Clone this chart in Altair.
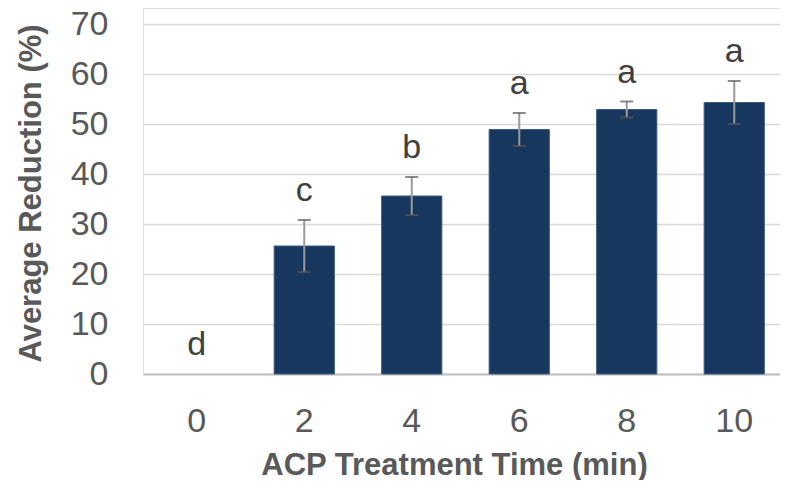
import altair as alt
import pandas as pd

times = ["0", "2", "4", "6", "8", "10"]
means = [0.0, 25.6, 35.6, 48.9, 52.9, 54.3]
errors = [0.0, 5.2, 3.8, 3.3, 1.6, 4.3]
letters = ["d", "c", "b", "a", "a", "a"]

df = pd.DataFrame({"time": times, "mean": means, "err": errors, "letter": letters})
df["lo"] = df["mean"] - df["err"]
df["hi"] = df["mean"] + df["err"]

FONT = "Liberation Sans"
TXT = "#595959"

xscale = alt.Scale(domain=times, paddingInner=0.44, paddingOuter=0.22, range=[0, 645])

x = alt.X("time:N", sort=times, scale=xscale,
          axis=alt.Axis(title="ACP Treatment Time (min)", labelAngle=0,
                        labelFontSize=34, labelColor=TXT, labelFont=FONT,
                        labelPadding=30, ticks=False, domainColor="#bfbfbf",
                        domainWidth=2, titleFontSize=31, titleFont=FONT,
                        titleFontWeight="bold", titleColor=TXT,
                        titleX=311, titleY=91, titleBaseline="middle"))
y = alt.Y("mean:Q",
          scale=alt.Scale(domain=[0, 73.2], nice=False),
          axis=alt.Axis(title="Average Reduction (%)", values=[0, 10, 20, 30, 40, 50, 60, 70],
                        labelFontSize=34, labelColor=TXT, labelFont=FONT,
                        labelPadding=35, ticks=False, domain=False,
                        gridColor="#d9d9d9", gridWidth=1.5,
                        titleFontSize=31, titleFont=FONT, titleFontWeight="bold",
                        titleColor=TXT, titleX=-112, titleY=185, titleAngle=-90,
                        titleBaseline="middle"))

base = alt.Chart(df)

bars = alt.Chart(df[df["mean"] > 0]).mark_bar(
    color="#17375e", stroke="#3d5a80", strokeWidth=1).encode(x=x, y=y)

errdf = df[df["err"] > 0]
xe = alt.X("time:N", sort=times, scale=xscale)
rules = alt.Chart(errdf).mark_rule(color="#9a9a9a", strokeWidth=2).encode(
    x=xe, y="lo:Q", y2="hi:Q")
caps_hi = alt.Chart(errdf).mark_tick(color="#595959", size=13, thickness=2, orient="horizontal").encode(
    x=xe, y="hi:Q")
caps_lo = alt.Chart(errdf).mark_tick(color="#595959", size=13, thickness=2, orient="horizontal").encode(
    x=xe, y="lo:Q")

labels = base.mark_text(fontSize=34, font=FONT, color="#404040", baseline="bottom", dy=-12).encode(
    x=xe, y="hi:Q", text="letter:N")

chart = (bars + rules + caps_hi + caps_lo + labels).properties(
    width=637, height=366,
    autosize=alt.AutoSizeParams(type="none"),
    padding={"left": 135, "top": 0, "right": 0, "bottom": 106},
).configure_view(stroke=None).configure(background="white")

chart.save("out.html", embed_options={"renderer": "svg", "actions": False})
